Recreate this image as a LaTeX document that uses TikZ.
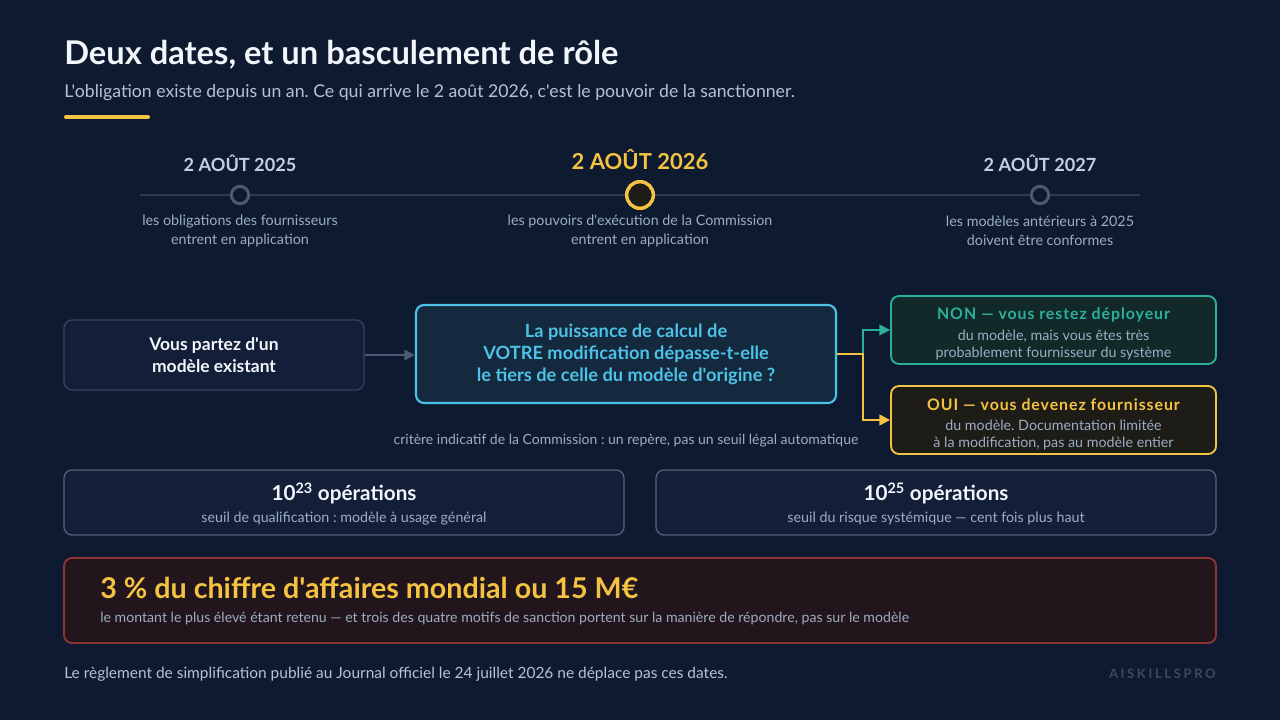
\documentclass[tikz,border=0pt]{standalone}
\usepackage{fontspec}
\setmainfont{Lato}[Ligatures=TeXOff]
\newfontfamily\spacedfont{Lato}[LetterSpace=6,Ligatures=TeXOff]
\newfontfamily\brandfont{Lato}[LetterSpace=20,Ligatures=TeXOff]
\frenchspacing
\usetikzlibrary{arrows.meta}

\definecolor{bg}{HTML}{0D1A30}
\definecolor{titlecol}{HTML}{F2F5FA}
\definecolor{subcol}{HTML}{B4C2D6}
\definecolor{gold}{HTML}{F5C342}
\definecolor{dimline}{HTML}{2A3A52}
\definecolor{dotcol}{HTML}{4A5A72}
\definecolor{desccol}{HTML}{9CADC3}
\definecolor{datecol}{HTML}{C5D0DE}
\definecolor{cardfill}{HTML}{131F38}
\definecolor{cardline}{HTML}{34445E}
\definecolor{cyanline}{HTML}{4CC3E6}
\definecolor{cyanfill}{HTML}{14283E}
\definecolor{tealline}{HTML}{2AB09A}
\definecolor{tealfill}{HTML}{12292A}
\definecolor{ouifill}{HTML}{1E1C17}
\definecolor{redline}{HTML}{8C3535}
\definecolor{redfill}{HTML}{22151B}
\definecolor{brandcol}{HTML}{3B4A63}
\definecolor{arrowcol}{HTML}{4A5A74}

\begin{document}
\begin{tikzpicture}[x=0.75pt,y=-0.75pt,
  card/.style={draw=cardline,fill=cardfill,rounded corners=6pt,line width=1pt,inner sep=0pt},
  desc/.style={text=desccol,font=\fontsize{10.75}{14.25}\selectfont,align=center},
  date/.style={text=datecol,font=\bfseries\fontsize{13.6}{16}\selectfont},
  dot/.style={circle,draw=dotcol,fill=bg,line width=2.2pt,minimum size=13pt,inner sep=0pt},
  small/.style={text=desccol,font=\fontsize{10.7}{13}\selectfont},
  flow/.style={line width=1.5pt,-{Triangle[length=8pt,width=8pt]}}]

  % background and margins
  \fill[bg] (0,0) rectangle (1280,720);
  \useasboundingbox (0,0) rectangle (1280,720);

  % heading
  \node[anchor=base west,text=titlecol,font=\bfseries\fontsize{24.5}{28}\selectfont,inner sep=0pt] (title) at (64,65) {Deux dates, et un basculement de rôle};
  \node[anchor=base west,text=subcol,font=\fontsize{13.25}{16}\selectfont,inner sep=0pt] (subtitle) at (64,98) {L'obligation existe depuis un an. Ce qui arrive le 2 août 2026, c'est le pouvoir de la sanctionner.};
  \draw[gold,line width=3pt,line cap=round] (66,117) -- (148,117);

  % timeline
  \coordinate (tl0) at (140,195);
  \coordinate (tl1) at (1140,195);
  \draw[dimline,line width=1.5pt] (tl0) -- (tl1);
  \node[dot] (d25) at (240,195) {};
  \node[dot,draw=gold,fill=ouifill,line width=2.6pt,minimum size=20pt] (d26) at (640,195) {};
  \node[dot] (d27) at (1040,195) {};

  \node[date,anchor=base] (y25) at (240,172) {2 AOÛT 2025};
  \node[date,anchor=base,text=gold,font=\bfseries\fontsize{16.5}{19}\selectfont] (y26) at (640,170) {2 AOÛT 2026};
  \node[date,anchor=base] (y27) at (1040,172) {2 AOÛT 2027};

  \node[desc] (t25) at (240,231) {les obligations des fournisseurs\\entrent en application};
  \node[desc] (t26) at (640,231) {les pouvoirs d'exécution de la Commission\\entrent en application};
  \node[desc] (t27) at (1040,231) {les modèles antérieurs à 2025\\doivent être conformes};

  % decision
  \node[card,minimum width=225pt,minimum height=52.5pt,text=titlecol,align=center,
    font=\bfseries\fontsize{13.1}{16.5}\selectfont] (start) at (214,355) {Vous partez d'un\\modèle existant};
  \node[card,draw=cyanline,fill=cyanfill,line width=1.6pt,minimum width=315pt,minimum height=73.5pt,
    text=cyanline,align=center,font=\bfseries\fontsize{13.7}{16.5}\selectfont] (quest) at (626,354)
    {La puissance de calcul de\\VOTRE modification dépasse-t-elle\\le tiers de celle du modèle d'origine ?};
  \node[card,draw=tealline,fill=tealfill,line width=1.4pt,minimum width=243.75pt,minimum height=51pt] (non) at (1053.5,330) {};
  \node[card,draw=gold,fill=ouifill,line width=1.4pt,minimum width=243.75pt,minimum height=51pt] (oui) at (1053.5,420) {};

  \node[anchor=base,text=tealline,font=\spacedfont\bfseries\fontsize{11.9}{14}\selectfont] (nonhead) at (1053.5,319) {NON — vous restez déployeur};
  \node[small,anchor=base,align=center] (nonsub) at (1053.5,340) {du modèle, mais vous êtes très};
  \node[small,anchor=base,align=center] (nonsub2) at (1053.5,357) {probablement fournisseur du système};
  \node[anchor=base,text=gold,font=\spacedfont\bfseries\fontsize{11.9}{14}\selectfont] (ouihead) at (1053.5,410) {OUI — vous devenez fournisseur};
  \node[small,anchor=base,align=center] (ouisub) at (1053.5,430) {du modèle. Documentation limitée};
  \node[small,anchor=base,align=center] (ouisub2) at (1053.5,447) {à la modification, pas au modèle entier};

  \draw[flow,arrowcol] (start) -- (start -| quest.west);
  \draw[flow,tealline] (quest.east) -- ++(26,0) |- (non.west);
  \draw[flow,gold] (quest.east) -- ++(26,0) |- (oui.west);

  \node[small,anchor=base,font=\fontsize{10.5}{13}\selectfont] (note) at (626,444) {critère indicatif de la Commission : un repère, pas un seuil légal automatique};

  % thresholds
  \node[card,draw=cardline!85,minimum width=420pt,minimum height=48.75pt] (op23) at (344,502.5) {};
  \node[card,draw=cardline!85,minimum width=420pt,minimum height=48.75pt] (op25) at (936,502.5) {};
  \node[anchor=base,text=titlecol,font=\bfseries\fontsize{15.5}{18}\selectfont] (op23head) at (344,500) {10\textsuperscript{23} opérations};
  \node[small,anchor=base] (op23sub) at (344,522) {seuil de qualification : modèle à usage général};
  \node[anchor=base,text=titlecol,font=\bfseries\fontsize{15.5}{18}\selectfont] (op25head) at (936,500) {10\textsuperscript{25} opérations};
  \node[small,anchor=base] (op25sub) at (936,522) {seuil du risque systémique — cent fois plus haut};

  % sanction
  \node[card,draw=redline,fill=redfill,line width=1.4pt,minimum width=864pt,minimum height=63.75pt] (fine) at (640,600.5) {};
  \node[anchor=base west,inner sep=0pt,text=gold,font=\bfseries\fontsize{21.5}{24}\selectfont] (finehead) at (100,598) {3 \% du chiffre d'affaires mondial ou 15 M€};
  \node[small,anchor=base west,inner sep=0pt,font=\fontsize{10.6}{13}\selectfont] (finesub) at (100,622) {le montant le plus élevé étant retenu — et trois des quatre motifs de sanction portent sur la manière de répondre, pas sur le modèle};

  % footer
  \node[anchor=base west,inner sep=0pt,text=subcol,font=\fontsize{11.6}{14}\selectfont] (foot) at (64,678) {Le règlement de simplification publié au Journal officiel le 24 juillet 2026 ne déplace pas ces dates.};
  \node[anchor=base east,inner sep=0pt,text=brandcol,font=\brandfont\bfseries\fontsize{9.8}{12}\selectfont] (brand) at (1216,678) {AISKILLSPRO};
\end{tikzpicture}
\end{document}
